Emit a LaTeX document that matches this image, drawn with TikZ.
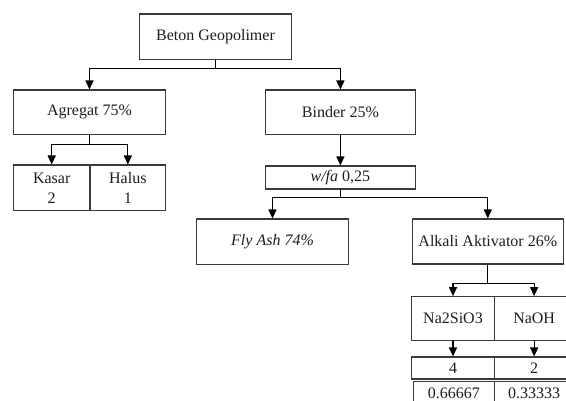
\documentclass[tikz,border=0pt]{standalone}
\usepackage{fontspec}
\setmainfont{Liberation Serif}
\usetikzlibrary{arrows.meta}
\definecolor{boxc}{HTML}{3A3A3A}
\definecolor{txt}{HTML}{1E1E1E}
\tikzset{
  box/.style={draw=boxc, line width=1.1pt, rectangle, inner sep=0pt, text=txt,
    font=\fontsize{16}{20}\selectfont, align=center},
  conn/.style={line width=1.2pt, draw=black},
  arr/.style={conn, -{Triangle[width=8pt,length=9pt]}},
}
\begin{document}
\begin{tikzpicture}[x=1pt,y=-1pt]
\clip (0,0) rectangle (566,401);
\fill[white] (0,0) rectangle (566,401);
% boxes
\node[box, minimum width=152.4pt, minimum height=45.3pt] (beton) at (215.5,36.7) {Beton Geopolimer};
\node[box, minimum width=152.4pt, minimum height=44.3pt] (agregat) at (89.5,112.2) {Agregat 75\%};
\node[box, minimum width=150.7pt, minimum height=44.3pt] (binder) at (340.4,112.2) {Binder 25\%};
\node[box, minimum width=76.7pt, minimum height=45.7pt] (kasar) at (51.7,187.9) {Kasar\\2};
\node[box, minimum width=75.7pt, minimum height=45.7pt] (halus) at (127.85,187.9) {Halus\\1};
\node[box, minimum width=150.7pt, minimum height=23pt] (wfa) at (340.4,177.5) {\textit{w/fa} 0,25};
\node[box, minimum width=151.6pt, minimum height=45.3pt] (flyash) at (272.5,241.7) {\textit{Fly Ash 74\%}};
\node[box, minimum width=151pt, minimum height=45pt] (alkali) at (487.8,241.5) {Alkali Aktivator 26\%};
\node[box, minimum width=82.6pt, minimum height=44pt] (na2) at (453,318.7) {Na2SiO3};
\node[box, minimum width=79.7pt, minimum height=44pt] (naoh) at (534.15,318.7) {NaOH};
\node[box, minimum width=82.6pt, minimum height=22pt] (four) at (453,368) {4};
\node[box, minimum width=79.7pt, minimum height=22pt] (two) at (534.15,368) {2};
\node[box, minimum width=81pt, minimum height=23.6pt] (va) at (453.8,393.3) {0.66667};
\node[box, minimum width=79.7pt, minimum height=23.6pt] (vb) at (534.15,393.3) {0.33333};
% junctions
\coordinate (j1) at (215.5,68.3);
\coordinate (j2) at (89.5,144.3);
\coordinate (j3) at (340.4,197.3);
\coordinate (j4) at (487.8,283.3);
% connectors
\draw[conn] (beton.south) -- (j1);
\draw[arr] (j1) -| (agregat.north);
\draw[arr] (j1) -| (binder.north);
\draw[conn] (agregat.south) -- (j2);
\draw[arr] (j2) -| (kasar.north);
\draw[arr] (j2) -| (halus.north);
\draw[arr] (binder.south) -- (wfa.north);
\draw[conn] (wfa.south) -- (j3);
\draw[arr] (j3) -| (flyash.north);
\draw[arr] (j3) -| (alkali.north);
\draw[conn] (alkali.south) -- (j4);
\draw[arr] (j4) -| (na2.north);
\draw[arr] (j4) -| (naoh.north);
\draw[arr] (na2.south) -- (four.north);
\draw[arr] (naoh.south) -- (two.north);
\end{tikzpicture}
\end{document}
